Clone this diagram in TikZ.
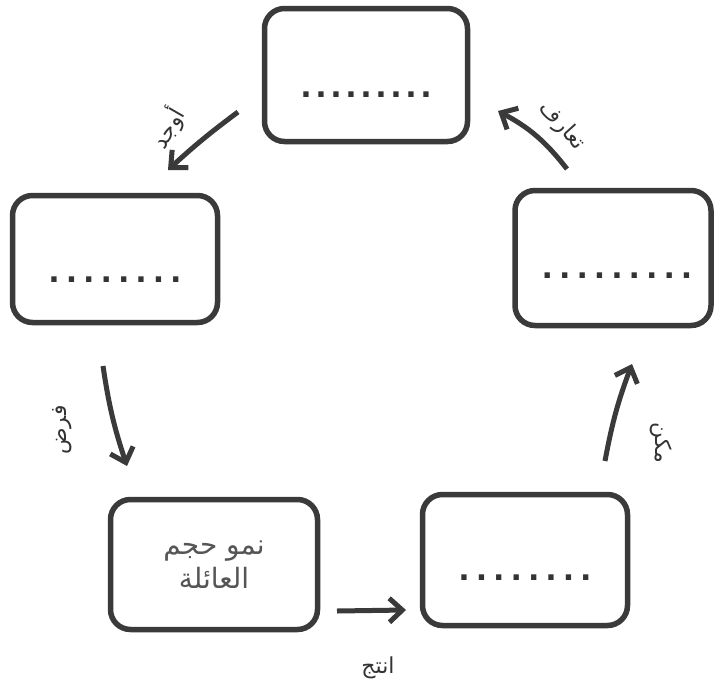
\documentclass[tikz,border=0pt]{standalone}
\usepackage{fontspec}
\setmainfont{DejaVu Sans}
\newfontfamily\arabicfont[Script=Arabic]{DejaVu Sans}
\TeXXeTstate=1
\usetikzlibrary{arrows.meta}
\definecolor{boxgray}{HTML}{3A3A3A}
\definecolor{inkgray}{HTML}{333333}
\definecolor{printgray}{HTML}{555555}
\newcommand\dotrow[2]{.\foreach\i in {2,...,#1}{\kern#2.}}
\begin{document}
\begin{tikzpicture}[x=1pt,y=-1pt,
  box/.style={draw=boxgray, line width=5.5pt, rounded corners=20pt, inner sep=0pt, align=center},
  dotsty/.style={text=inkgray, font=\bfseries\fontsize{30}{30}\selectfont, inner sep=0pt},
  conn/.style={draw=boxgray, line width=5pt, -{Straight Barb[length=13pt,width=24pt]}},
  lbl/.style={text=inkgray, font=\arabicfont\fontsize{22}{24}\selectfont, inner sep=0pt}]
\fill[white] (0,0) rectangle (715,691);
\useasboundingbox (0,0) rectangle (715,691);
% boxes
\node[box, minimum width=203pt, minimum height=133pt] (T) at (366,75) {};
\node[box, minimum width=205pt, minimum height=127pt] (L) at (115,259) {};
\node[box, minimum width=196pt, minimum height=135pt] (R) at (613,258) {};
\node[box, minimum width=207pt, minimum height=130pt, text=printgray,
      font=\arabicfont\fontsize{28}{34}\selectfont] (BL) at (214,564.5)
      {\beginR نمو حجم\endR\\\beginR العائلة\endR};
\node[box, minimum width=205pt, minimum height=131pt] (BR) at (525,560) {};
% dotted blanks
\node[dotsty] (Td) at ([yshift=-20pt]T.center) {\dotrow{9}{3.6pt}};
\node[dotsty] (Ld) at ([yshift=-21pt]L.center) {\dotrow{8}{6pt}};
\node[dotsty] (Rd) at ([yshift=-18pt,xshift=4pt]R.center) {\dotrow{9}{6pt}};
\node[dotsty] (BRd) at ([yshift=-18pt]BR.center) {\dotrow{8}{6pt}};
% connector ends
\coordinate (a1s) at (238,112); \coordinate (a1e) at (168,170);
\coordinate (a2s) at (103,366); \coordinate (a2e) at (127,466);
\coordinate (a3s) at (337,611); \coordinate (a3e) at (406,610);
\coordinate (a4s) at (605,461); \coordinate (a4e) at (632,364);
\coordinate (a5s) at (567,169); \coordinate (a5e) at (498,111);
\draw[conn] (a1s) to[bend right=3] (a1e);
\draw[conn] (a2s) to[bend right=5] (a2e);
\draw[conn] (a3s) -- (a3e);
\draw[conn] (a4s) to[bend left=5] (a4e);
\draw[conn] (a5s) to[bend right=12] (a5e);
% labels
\node[lbl, rotate=60] (l1) at (168,128) {\beginR أوجد\endR};
\node[lbl, rotate=90] (l2) at (62,430) {\beginR فرض\endR};
\node[lbl] (l3) at (378,668) {\beginR انتج\endR};
\node[lbl, rotate=-90] (l4) at (661,443) {\beginR مكن\endR};
\node[lbl, rotate=-48] (l5) at (562,126) {\beginR تعارف\endR};
\end{tikzpicture}
\end{document}
